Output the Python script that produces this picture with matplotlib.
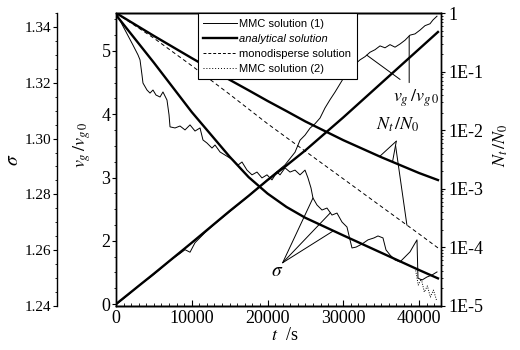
import numpy as np
import matplotlib
matplotlib.use('Agg')
import matplotlib.pyplot as plt
from matplotlib.ticker import MultipleLocator, FixedLocator, FixedFormatter, LogLocator, NullFormatter
from matplotlib.lines import Line2D

plt.rcParams['font.family'] = ['Liberation Serif', 'DejaVu Serif']
plt.rcParams['mathtext.fontset'] = 'stix'

# ---------------- data ----------------
t_an = [0, 5000, 10000, 15000, 17500, 20000, 22500, 25000, 30000, 35000, 40000, 42500]
sigma_an = [1.3443, 1.3272, 1.3095, 1.2935, 1.2862, 1.2803, 1.2755, 1.2716, 1.2653, 1.2591, 1.2529, 1.2499]
vg_an = [1.0, 1.48, 1.97, 2.47, 2.71, 2.96, 3.19, 3.43, 3.95, 4.49, 5.03, 5.30]
n_an = [1.0, 0.407, 0.170, 0.0724, 0.048, 0.0316, 0.0212, 0.0141, 0.00676, 0.00347, 0.00186, 0.00141]
n_mono = [1.0, 0.372, 0.126, 0.041, 0.023, 0.0129, 0.0075, 0.00437, 0.00148, 0.0005, 0.00017, 0.000098]

t_mmc_s = [0, 1190, 2240, 2900, 3170, 3430, 3560, 4090, 4490, 4880, 5280, 5810, 6200, 6730,
           7000, 7130, 7790, 8450, 9110, 9770, 10430, 11090, 11480, 12010, 12670, 13070,
           13730, 14390, 15050, 15440, 16100, 16630, 17290, 17950, 18610, 19270, 19930,
           20590, 21250, 21650, 22310, 22970, 23630, 24290, 24950, 25340, 25740, 26000,
           26530, 27190, 27850, 28510, 29170, 29830, 30490, 30890, 31150, 31680, 32470,
           33260, 34060, 34580, 35240, 35640, 36170, 36830, 37490, 38150, 38810, 39340,
           39730, 39860, 40390, 41050, 41710, 42370]
sigma_mmc = [1.3450, 1.3389, 1.3335, 1.3300, 1.3282, 1.3228, 1.3199, 1.3174, 1.3163, 1.3174,
             1.3156, 1.3149, 1.3167, 1.3138, 1.3085, 1.3042, 1.3038, 1.3045, 1.3031, 1.3049,
             1.3027, 1.3038, 1.2995, 1.2984, 1.2966, 1.2977, 1.2952, 1.2941, 1.2930, 1.2923,
             1.2905, 1.2916, 1.2887, 1.2870, 1.2880, 1.2859, 1.2870, 1.2852, 1.2880, 1.2870,
             1.2895, 1.2880, 1.2887, 1.2870, 1.2887, 1.2859, 1.2823, 1.2787, 1.2762, 1.2744,
             1.2751, 1.2726, 1.2733, 1.2701, 1.2683, 1.2637, 1.2608, 1.2611, 1.2622, 1.2637,
             1.2644, 1.2651, 1.2644, 1.2601, 1.2583, 1.2565, 1.2558, 1.2576, 1.2594, 1.2619,
             1.2637, 1.2500, 1.2493, 1.2504, 1.2511, 1.2522]

t_mmc_v = [0, 1850, 3170, 4490, 5810, 7130, 8450, 9110, 9770, 10430, 11750, 13070, 14390,
           15710, 17030, 18350, 19670, 20990, 22310, 23630, 24290, 24950, 25610, 26270,
           26930, 27590, 28250, 28910, 29570, 30230, 30890, 31550, 32210, 32870, 33530,
           34190, 34850, 35510, 36170, 36830, 37490, 38150, 38810, 39470, 40130, 40790,
           41450, 41840, 42370]
vg_mmc = [0.99, 1.17, 1.31, 1.42, 1.55, 1.69, 1.80, 1.86, 1.82, 1.97, 2.13, 2.27, 2.40,
          2.53, 2.66, 2.80, 2.93, 3.07, 3.20, 3.40, 3.59, 3.67, 3.78, 3.85, 3.94, 4.10,
          4.23, 4.35, 4.48, 4.61, 4.70, 4.79, 4.86, 4.91, 4.98, 5.02, 5.08, 5.05, 5.10,
          5.06, 5.11, 5.17, 5.25, 5.27, 5.33, 5.40, 5.43, 5.49, 5.55]

t_mmc2 = [39500, 39900, 40300, 40700, 41100, 41500, 41900, 42300]
sigma_mmc2 = [1.2536, 1.2475, 1.2497, 1.2450, 1.2472, 1.2432, 1.2457, 1.2422]

x_ticks = [0, 10000, 20000, 30000, 40000]
vg_ticks = [1, 2, 3, 4, 5]
vg_tick_labels = ['0', '2', '3', '4', '5']
sigma_ticks = [1.24, 1.26, 1.28, 1.30, 1.32, 1.34]
n_ticks = [1e-5, 1e-4, 1e-3, 1e-2, 1e-1, 1]
n_tick_labels = ['1E-5', '1E-4', '1E-3', '1E-2', '1E-1', '1']

# ---------------- figure ----------------
W, H = 520, 350
fig = plt.figure(figsize=(W / 100, H / 100), dpi=100)
L, R, T, B = 116, 441, 13, 306
ax = fig.add_axes([L / W, 1 - B / H, (R - L) / W, (B - T) / H])
ax_s = ax.twinx()
ax_n = ax.twinx()

thick = 1.7
thin = 0.7

# vg axis (host)
ax.plot(t_mmc_v, vg_mmc, color='black', lw=thin)
ax.plot(t_an, vg_an, color='black', lw=thick)
ax.set_xlim(0, 42900)
ax.set_ylim(0.97, 5.6)

# sigma axis
ax_s.plot(t_mmc_s, sigma_mmc, color='black', lw=thin)
ax_s.plot(t_an, sigma_an, color='black', lw=thick)
ax_s.plot(t_mmc2, sigma_mmc2, color='black', lw=thin, ls=(0, (1, 1.5)))
ax_s.set_ylim(1.24, 1.345)

# N axis
ax_n.set_yscale('log')
ax_n.plot(t_an, n_mono, color='black', lw=thin, ls=(0, (4, 3)))
ax_n.plot(t_an, n_an, color='black', lw=thick)
ax_n.set_ylim(1e-5, 1)

# spines
ax_s.spines['left'].set_position(('outward', 59 * 0.72))
ax_s.spines['left'].set_visible(True)
ax_s.spines['right'].set_visible(False)
ax_s.yaxis.set_ticks_position('left')
ax_s.yaxis.set_label_position('left')
for a in (ax, ax_s, ax_n):
    for s in a.spines.values():
        s.set_linewidth(1.0)

# ticks
ax.xaxis.set_major_locator(FixedLocator(x_ticks))
ax.xaxis.set_minor_locator(MultipleLocator(1000))
ax.tick_params(axis='x', which='both', direction='in', top=False, labelsize=13, pad=3)
ax.tick_params(axis='x', which='major', length=4)
ax.tick_params(axis='x', which='minor', length=2)
ax.yaxis.set_major_locator(FixedLocator(vg_ticks))
ax.yaxis.set_major_formatter(FixedFormatter(vg_tick_labels))
ax.yaxis.set_minor_locator(MultipleLocator(0.25))
ax.tick_params(axis='y', which='major', direction='out', length=3, labelsize=13, pad=1)
ax.tick_params(axis='y', which='minor', direction='out', length=1.5)

ax_s.yaxis.set_major_locator(FixedLocator(sigma_ticks))
ax_s.yaxis.set_major_formatter(FixedFormatter(['%.2f' % v for v in sigma_ticks]))
ax_s.yaxis.set_minor_locator(MultipleLocator(0.005))
ax_s.tick_params(axis='y', which='major', direction='out', length=3, labelsize=11, pad=1)
ax_s.tick_params(axis='y', which='minor', direction='out', length=1.5)

ax_n.yaxis.set_major_locator(FixedLocator(n_ticks))
ax_n.yaxis.set_major_formatter(FixedFormatter(n_tick_labels))
ax_n.yaxis.set_minor_locator(LogLocator(base=10, subs=np.arange(2, 10)))
ax_n.yaxis.set_minor_formatter(NullFormatter())
ax_n.tick_params(axis='y', which='major', direction='out', length=3, labelsize=13, pad=2)
ax_n.tick_params(axis='y', which='minor', direction='out', length=1.5)

# axis labels
ax.set_xlabel(r'$t$  /s', fontsize=13)
ax.xaxis.set_label_coords(0.52, -0.07)
ax.set_ylabel(r'$v_g\,/v_{g\,0}$', fontsize=13)
ax.yaxis.set_label_coords(-0.07, 0.55)
ax_s.set_ylabel(r'$\sigma$', fontsize=14)
ax_s.yaxis.set_label_coords(-0.29, 0.5)
ax_n.set_ylabel(r'$N_t\,/N_0$', fontsize=13)
ax_n.yaxis.set_label_coords(1.155, 0.55)

# legend
handles = [Line2D([], [], color='black', lw=thin),
           Line2D([], [], color='black', lw=thick),
           Line2D([], [], color='black', lw=thin, ls=(0, (3, 2))),
           Line2D([], [], color='black', lw=thin, ls=(0, (1, 2)))]
labels = ['MMC solution (1)', 'analytical solution', 'monodisperse solution', 'MMC solution (2)']
leg = ax_n.legend(handles, labels, loc='upper left', bbox_to_anchor=(0.252, 1.0),
                  borderaxespad=0, frameon=True, fancybox=False, framealpha=1,
                  edgecolor='black', handlelength=3.0, handletextpad=0.2,
                  labelspacing=0.45, borderpad=0.5,
                  prop={'family': 'Liberation Sans', 'size': 8})
leg.get_frame().set_linewidth(0.8)
leg.get_texts()[1].set_style('italic')

# annotations
kw = dict(arrowprops=dict(arrowstyle='-', lw=0.7, color='black', shrinkA=0, shrinkB=0))
# sigma
ax_s.text(21250, 1.2522, r'$\sigma$', fontsize=14, ha='center', va='center')
for tp, arr_t, arr_y in [(26000, t_mmc_s, sigma_mmc), (28300, t_mmc_s, sigma_mmc), (28700, t_an, sigma_an)]:
    ax_s.annotate('', xy=(tp, np.interp(tp, arr_t, arr_y)), xytext=(22000, 1.2555), **kw)
# N
ax_n.text(37200, 0.0125, r'$N_t\,/N_0$', fontsize=13, ha='center', va='center')
for tp in (34800, 36500):
    ax_n.annotate('', xy=(tp, 10 ** np.interp(tp, t_an, np.log10(n_an))), xytext=(37000, 0.0065), **kw)
ax_n.annotate('', xy=(38400, 10 ** np.interp(38400, t_an, np.log10(n_mono))), xytext=(36900, 0.0055), **kw)
# vg
ax.text(39600, 4.25, r'$v_g\,/v_{g\,0}$', fontsize=13, ha='center', va='center')
ax.annotate('', xy=(38700, np.interp(38700, t_mmc_v, vg_mmc)), xytext=(38700, 4.5), **kw)
ax.annotate('', xy=(33100, np.interp(33100, t_mmc_v, vg_mmc)), xytext=(37500, 4.55), **kw)

fig.savefig('out.png', dpi=100)
